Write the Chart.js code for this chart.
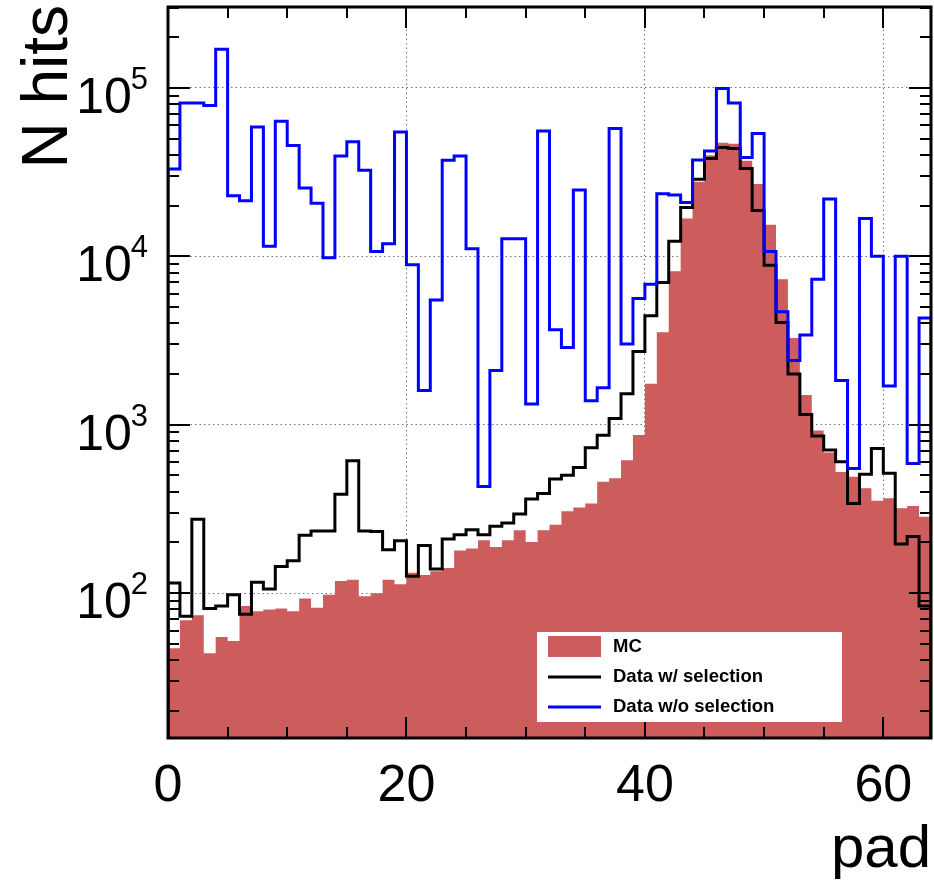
<!DOCTYPE html>
<html>
<head>
<meta charset="utf-8">
<script src="https://cdn.jsdelivr.net/npm/chart.js@4.4.1/dist/chart.umd.min.js"></script>
<style>
  html, body { margin: 0; padding: 0; background: #fff; }
  canvas { display: block; }
</style>
</head>
<body>
<canvas id="canvas" width="934" height="880"></canvas>
<script>
// pad number = bin index (64 bins, 0..63)
const mcHits = [
  47, 69, 74, 44, 55, 52, 84, 78, 80, 81,
  78, 93, 82, 98, 118, 120, 96, 100, 120, 113,
  132, 128, 135, 141, 179, 184, 206, 188, 206, 236,
  201, 236, 255, 306, 323, 341, 458, 482, 616, 868,
  1750, 3540, 8150, 16800, 27700, 39800, 47300, 46700, 36900, 26900,
  15400, 7310, 3270, 1500, 926, 684, 525, 491, 419, 354,
  366, 319, 329, 284
]
const dataSel = [
  115, 73, 275, 81, 84, 98, 75, 116, 106, 144,
  156, 221, 234, 234, 386, 612, 234, 232, 181, 205,
  126, 192, 139, 210, 222, 238, 222, 250, 261, 295,
  362, 391, 476, 502, 557, 731, 865, 1090, 1530, 2720,
  4440, 7000, 12300, 19500, 28700, 38100, 44300, 43700, 33200, 18700,
  8850, 4050, 2000, 1150, 857, 708, 602, 341, 509, 722,
  516, 196, 217, 84
]
const dataNoSel = [
  33000, 81500, 81500, 78700, 170000, 22900, 21400, 58700, 11500, 63500,
  45600, 25500, 20700, 9800, 39400, 48000, 32500, 10700, 11900, 54700,
  8930, 1600, 5500, 37200, 39500, 11100, 430, 2100, 12700, 12700,
  1330, 55500, 3660, 2880, 24800, 1390, 1660, 57500, 3020, 5620,
  6840, 23500, 23100, 20900, 37400, 42300, 99100, 81500, 38600, 53700,
  10700, 4690, 2410, 3410, 7310, 21900, 1830, 550, 16800, 10000,
  1700, 10000, 589, 4300
]
const xTicks = [0, 20, 40, 60]
const yDecades = [2, 3, 4, 5]
const legendLabels = ['MC', 'Data w/ selection', 'Data w/o selection']

const xMin = 0
const xMax = 64
const yMin = 13.8
const yMax = 302500

const red = 'rgb(205, 93, 93)'
const font = '"Liberation Sans", Arial, Helvetica, sans-serif'

// histogram as points on bin left edges, last bin repeated on the right edge
function edges(values, closed) {
    const pts = values.map((v, i) => ({ x: i, y: v }))
    pts.push({ x: values.length, y: values[values.length - 1] })
    if (closed) {
        pts.unshift({ x: 0, y: 1 })
        pts.push({ x: values.length, y: 1 })
    }
    return pts
}

const isDecade = (v) => Math.abs(Math.log10(v) - Math.round(Math.log10(v))) < 1e-9

const rootFrame = {
    id: 'rootFrame',
    afterDatasetsDraw(chart) {
        const { ctx, chartArea: a, scales: { x, y } } = chart
        ctx.save()

        // inner ticks on all four sides
        ctx.strokeStyle = '#000'
        ctx.lineWidth = 2
        ctx.beginPath()
        for (let v = xMin; v <= xMax; v += 5) {
            const px = Math.round(x.getPixelForValue(v))
            const len = v % 20 === 0 ? 21 : 11
            ctx.moveTo(px, a.bottom)
            ctx.lineTo(px, a.bottom - len)
            ctx.moveTo(px, a.top)
            ctx.lineTo(px, a.top + len)
        }
        for (let e = 1; e <= 5; e++) {
            for (let m = 1; m <= 9; m++) {
                const v = m * Math.pow(10, e)
                if (v < yMin || v > yMax) continue
                const py = Math.round(y.getPixelForValue(v))
                const len = m === 1 ? 22 : 11
                ctx.moveTo(a.left, py)
                ctx.lineTo(a.left + len, py)
                ctx.moveTo(a.right, py)
                ctx.lineTo(a.right - len, py)
            }
        }
        ctx.stroke()

        ctx.lineWidth = 3
        ctx.strokeRect(a.left, a.top, a.right - a.left, a.bottom - a.top)

        // legend
        ctx.fillStyle = '#fff'
        ctx.fillRect(537, 632, 305, 90)
        ctx.fillStyle = red
        ctx.fillRect(548, 636, 53, 21)
        ctx.lineWidth = 3
        ctx.strokeStyle = '#000'
        ctx.beginPath()
        ctx.moveTo(548, 677)
        ctx.lineTo(601, 677)
        ctx.stroke()
        ctx.strokeStyle = '#0000ff'
        ctx.beginPath()
        ctx.moveTo(548, 707)
        ctx.lineTo(601, 707)
        ctx.stroke()
        ctx.fillStyle = '#000'
        ctx.font = 'bold 18.5px ' + font
        ctx.textAlign = 'left'
        ctx.textBaseline = 'middle'
        ctx.fillText(legendLabels[0], 613, 647)
        ctx.fillText(legendLabels[1], 613, 677)
        ctx.fillText(legendLabels[2], 613, 707)

        // tick labels
        ctx.textBaseline = 'alphabetic'
        ctx.font = '52px ' + font
        ctx.textAlign = 'center'
        xTicks.forEach((t) => {
            ctx.fillText(String(t), x.getPixelForValue(t), 801)
        })
        yDecades.forEach((d) => {
            const py = y.getPixelForValue(Math.pow(10, d))
            ctx.font = '31px ' + font
            ctx.textAlign = 'right'
            const supW = ctx.measureText(String(d)).width
            ctx.fillText(String(d), 148, py + 1)
            ctx.font = '50px ' + font
            ctx.fillText('10', 149 - supW, py + 25)
        })

        // axis titles
        ctx.font = '60px ' + font
        ctx.textAlign = 'right'
        ctx.fillText('pad', 931, 867)
        ctx.translate(67, 5)
        ctx.rotate(-Math.PI / 2)
        ctx.font = '64px ' + font
        ctx.fillText('N hits', 0, 0)
        ctx.restore()
    }
}

new Chart(document.getElementById('canvas'), {
    type: 'line',
    data: {
        datasets: [
            {
                label: legendLabels[0],
                data: edges(mcHits, false),
                stepped: 'before',
                borderWidth: 0,
                borderColor: red,
                backgroundColor: red,
                fill: 'start',
                pointRadius: 0,
                order: 3,
            },
            {
                label: legendLabels[1],
                data: edges(dataSel, true),
                stepped: 'before',
                borderWidth: 3,
                borderColor: '#000',
                fill: false,
                pointRadius: 0,
                order: 2,
            },
            {
                label: legendLabels[2],
                data: edges(dataNoSel, true),
                stepped: 'before',
                borderWidth: 3,
                borderColor: '#0000ff',
                fill: false,
                pointRadius: 0,
                order: 1,
            },
        ],
    },
    options: {
        responsive: false,
        animation: false,
        events: [],
        layout: {
            padding: { left: 168, right: 3, top: 7, bottom: 142 },
        },
        plugins: {
            legend: { display: false },
            tooltip: { enabled: false },
        },
        scales: {
            x: {
                type: 'linear',
                min: xMin,
                max: xMax,
                ticks: { display: false, stepSize: 20 },
                grid: {
                    drawTicks: false,
                    lineWidth: 1,
                    color: (c) => (c.tick && c.tick.value > 0 && c.tick.value < xMax ? 'rgba(0,0,0,0.55)' : 'rgba(0,0,0,0)'),
                },
                border: { display: false, dash: [1.5, 3] },
            },
            y: {
                type: 'logarithmic',
                min: yMin,
                max: yMax,
                ticks: { display: false },
                grid: {
                    drawTicks: false,
                    lineWidth: 1,
                    color: (c) => (c.tick && isDecade(c.tick.value) ? 'rgba(0,0,0,0.55)' : 'rgba(0,0,0,0)'),
                },
                border: { display: false, dash: [1.5, 3] },
            },
        },
    },
    plugins: [rootFrame],
})
</script>
</body>
</html>
